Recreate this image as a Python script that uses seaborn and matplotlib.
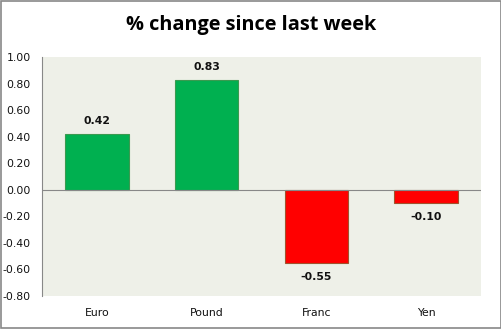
import matplotlib
matplotlib.use("Agg")
import matplotlib.pyplot as plt
import seaborn as sns
import pandas as pd
from matplotlib.patches import Rectangle

categories = ["Euro", "Pound", "Franc", "Yen"]
values = [0.42, 0.83, -0.55, -0.10]
yticks = [1.00, 0.80, 0.60, 0.40, 0.20, 0.00, -0.20, -0.40, -0.60, -0.80]
title = "% change since last week"

df = pd.DataFrame({"currency": categories, "change": values})
df["sign"] = ["up" if v >= 0 else "down" for v in values]

sns.set_theme(style="white")
plt.rcParams["font.family"] = ["DejaVu Sans"]

fig = plt.figure(figsize=(5.02, 3.29), dpi=100)
fig.patch.set_facecolor("white")
ax = fig.add_axes([42/502, 1-296/329, (481-42)/502, (296-57)/329])
ax.set_facecolor("#EEF0E8")

sns.barplot(data=df, x="currency", y="change", hue="sign",
            palette={"up": "#00B050", "down": "#FF0000"},
            dodge=False, width=0.58, legend=False, ax=ax, saturation=1)
for p in ax.patches:
    fc = p.get_facecolor()
    p.set_edgecolor("#A0522D" if fc[0] > 0.9 else "#3A9A50")
    p.set_linewidth(0.8)

ax.set_ylim(-0.80, 1.00)
ax.set_yticks(yticks)
ax.set_yticklabels([f"{t:.2f}" for t in yticks], fontsize=7.8, color="#111111")
ax.set_xticks(range(len(categories)))
ax.set_xticklabels(categories, fontsize=7.8, color="#111111")
ax.tick_params(axis="x", length=0, pad=9)
ax.tick_params(axis="y", length=0, pad=8)
ax.set_xlabel("")
ax.set_ylabel("")
for s in ["top", "right", "bottom"]:
    ax.spines[s].set_visible(False)
ax.spines["left"].set_color("#888888")
ax.spines["left"].set_linewidth(0.8)
ax.axhline(0, color="#888888", lw=0.8, zorder=3)

for i, v in enumerate(values):
    off = 0.06 if v >= 0 else -0.07
    ax.text(i, v + off, f"{v:.2f}", ha="center",
            va="bottom" if v >= 0 else "top",
            fontsize=7.8, fontweight="bold", color="#111111")

fig.text(0.5, 1-25/329, title, ha="center", va="center", color="black",
         fontsize=14.3, fontweight="bold", family=["Open Sans", "DejaVu Sans"])

fig.patches.append(Rectangle((0.001, 0.002), 0.997, 0.995, transform=fig.transFigure,
                             fill=False, edgecolor="#888888", lw=1.2))

fig.savefig("out.png", dpi=100, facecolor="white")
